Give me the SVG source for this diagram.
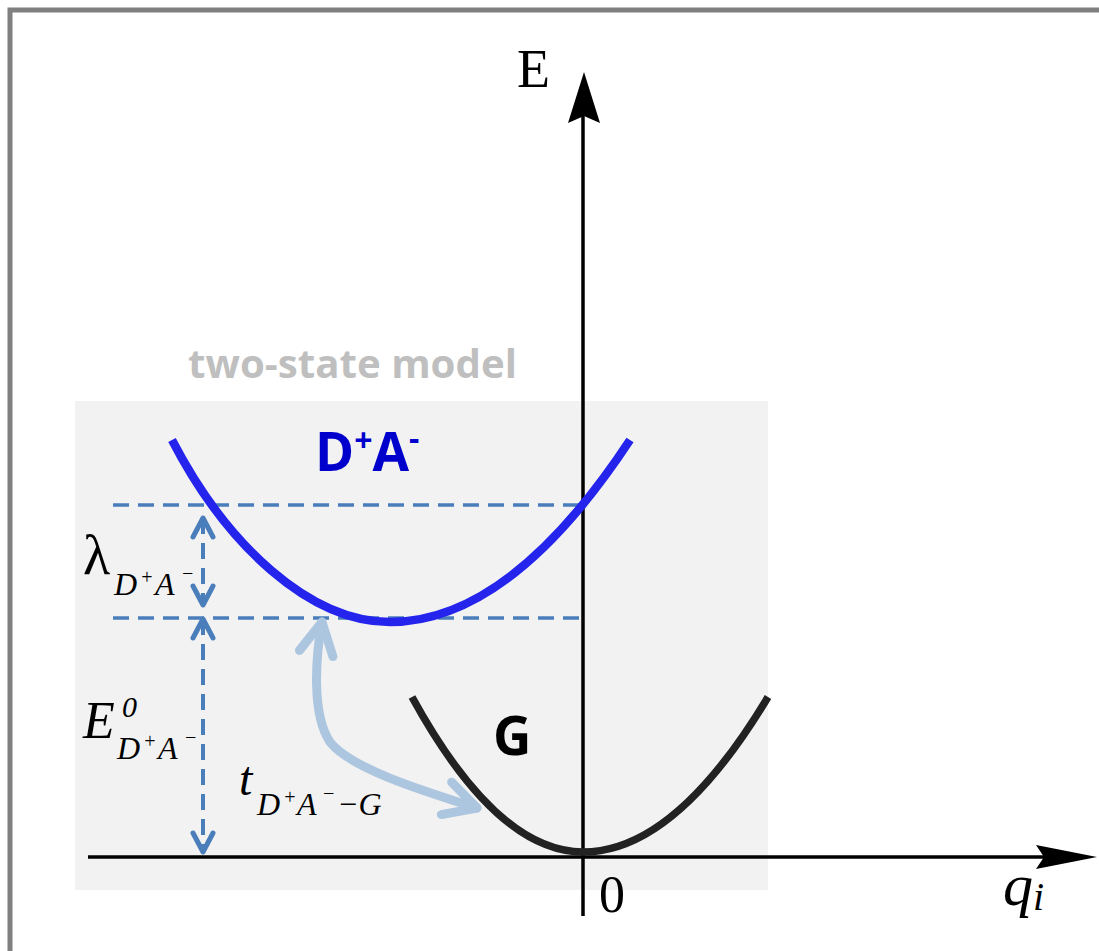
<svg xmlns="http://www.w3.org/2000/svg" width="1099" height="951" viewBox="0 0 1099 951">
<style>
.serif{font-family:"Liberation Serif","Times New Roman",serif;fill:#000}
.it{font-style:italic}
.dash{stroke:#4a7ebb;stroke-width:3.5;stroke-dasharray:16 9;fill:none}
.vdash{stroke:#4a7ebb;stroke-width:4;stroke-dasharray:16 9;fill:none}
.axis{stroke:#000;stroke-width:3.5;fill:none}
.axhead{fill:#000}
.link{stroke:#adc6e0;stroke-width:9;fill:none;stroke-linecap:round}
.bold{font-family:"Open Sans","Liberation Sans",Arial,sans-serif;font-weight:bold}
</style>
<defs>
<marker id="chev" markerUnits="userSpaceOnUse" viewBox="-25 -15 30 30" markerWidth="30" markerHeight="30" refX="0" refY="0" orient="auto-start-reverse" overflow="visible">
<path d="M-19,-10 L0,0 L-19,10" fill="none" stroke="#4a7ebb" stroke-width="5" stroke-linecap="round" stroke-linejoin="round"/>
</marker>
<marker id="lchev" markerUnits="userSpaceOnUse" viewBox="-40 -25 45 50" markerWidth="45" markerHeight="50" refX="0" refY="0" orient="auto-start-reverse" overflow="visible">
<path d="M-32,-17 L0,0 L-32,17" fill="none" stroke="#adc6e0" stroke-width="9" stroke-linecap="round" stroke-linejoin="round"/>
</marker>
</defs>
<path d="M10,951 L10,10 L1099,10" fill="none" stroke="#808080" stroke-width="5"/>
<rect id="model-box" x="75" y="401" width="693" height="489" fill="#f2f2f2"/>
<text class="bold" x="188" y="378" font-size="39" fill="#bfbfbf" textLength="329" lengthAdjust="spacingAndGlyphs">two-state model</text>
<g id="connectors">
<line class="axis" x1="583" y1="916" x2="583" y2="112"/>
<polygon class="axhead" points="584,72 600,123 584,116 568,123"/>
<line class="axis" x1="88" y1="857" x2="1050" y2="857"/>
<polygon class="axhead" points="1097,857 1036,869 1044,857 1036,845"/>
<line class="dash" x1="113" y1="505" x2="583" y2="505"/>
<line class="dash" x1="113" y1="618" x2="583" y2="618"/>
<line class="vdash" x1="203" y1="518" x2="203" y2="605" marker-start="url(#chev)" marker-end="url(#chev)"/>
<line class="vdash" x1="203" y1="619" x2="203" y2="852" marker-start="url(#chev)" marker-end="url(#chev)"/>
<path class="link" d="M322,622 C315,660 312,715 330,742 C350,768 420,790 477,808" marker-start="url(#lchev)" marker-end="url(#lchev)"/>
</g>
<g id="DA-curve">
<path d="M172,440 C227,546 310,622 390,622 Q510,622 630,440" fill="none" stroke="#2424ec" stroke-width="8.5"/>
<text class="bold" x="315" y="471" font-size="53" fill="#0000cc">D<tspan font-size="32" dy="-19">+</tspan><tspan dy="19">A</tspan><tspan font-size="32" dy="-21">-</tspan></text>
</g>
<g id="G-curve">
<path d="M412,697 Q497,852 583,852 Q675,852 768,697" fill="none" stroke="#222" stroke-width="7.5"/>
<text class="bold" x="493" y="755" font-size="53" fill="#000">G</text>
</g>
<g id="labels">
<text class="serif" x="517" y="87" font-size="54">E</text>
<text class="serif" x="599" y="912" font-size="52">0</text>
<text class="serif it" x="1003" y="905" font-size="60">q<tspan font-size="40" dy="5">i</tspan></text>
<text class="serif" x="83" y="574" font-size="56">λ</text>
<text class="serif it" font-size="32"><tspan x="114" y="595">D</tspan><tspan x="140" y="584" font-size="20">+</tspan><tspan x="155" y="595">A</tspan><tspan x="181" y="580" font-size="20">−</tspan></text>
<text class="serif it" x="83" y="738" font-size="52">E</text>
<text class="serif it" x="122" y="717" font-size="30">0</text>
<text class="serif it" font-size="32"><tspan x="117" y="759">D</tspan><tspan x="143" y="748" font-size="20">+</tspan><tspan x="158" y="759">A</tspan><tspan x="184" y="744" font-size="20">−</tspan></text>
<text class="serif it" x="239" y="795" font-size="48">t</text>
<text class="serif it" font-size="32"><tspan x="257" y="815">D</tspan><tspan x="283" y="804" font-size="20">+</tspan><tspan x="297" y="815">A</tspan><tspan x="322" y="800" font-size="20">−</tspan><tspan x="337" y="815">−G</tspan></text>
</g>
</svg>
